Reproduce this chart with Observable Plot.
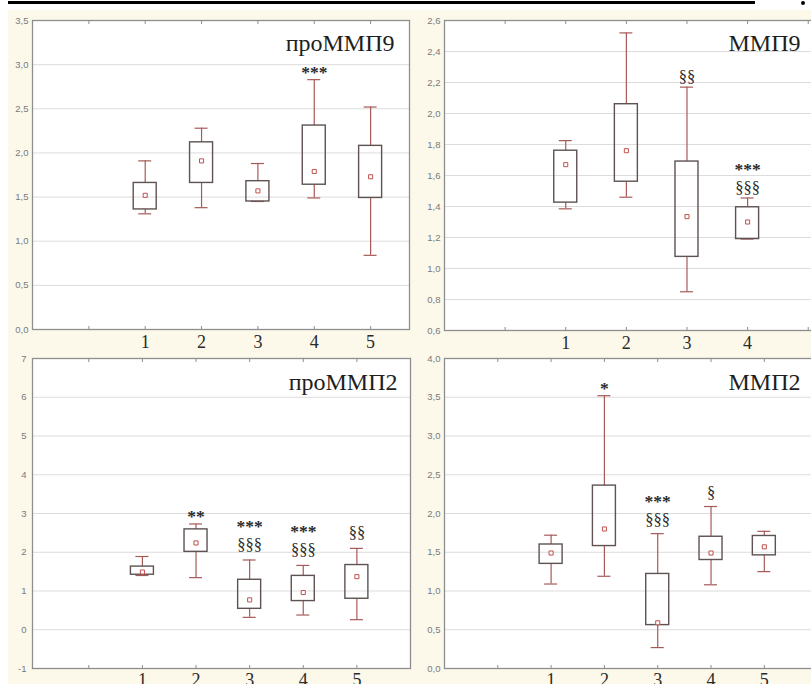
<!DOCTYPE html>
<html>
<head>
<meta charset="utf-8">
<script src="https://cdn.jsdelivr.net/npm/d3@7"></script>
<script src="https://cdn.jsdelivr.net/npm/@observablehq/plot@0.6"></script>
<style>
  html, body { margin: 0; padding: 0; background: #fff; }
  #fig { position: relative; width: 811px; height: 684px; overflow: hidden; background: #fff; }
  #fig .bg { position: absolute; left: 8px; top: 10px; right: 0; bottom: 0; background: #fcf8ea; }
  #fig .rule { position: absolute; left: 8px; top: 1px; width: 747px; height: 3px; background: #000; }
  #fig .dot { position: absolute; left: 801px; top: 1px; width: 4px; height: 4px; background: #000; border-radius: 2px; }
  #fig .panel { position: absolute; }
</style>
</head>
<body>
<div id="fig">
  <div class="bg"></div>
  <div class="rule"></div>
  <div class="dot"></div>
</div>
<script>
// ---- data ----
const groups = [1, 2, 3, 4, 5];

// проММП9
const proMMP9_low  = [1.31, 1.38, 1.45, 1.49, 0.84];
const proMMP9_q1   = [1.36, 1.66, 1.45, 1.64, 1.49];
const proMMP9_mean = [1.52, 1.91, 1.57, 1.79, 1.73];
const proMMP9_q3   = [1.66, 2.12, 1.68, 2.31, 2.08];
const proMMP9_high = [1.91, 2.28, 1.88, 2.83, 2.52];
const proMMP9_star = ["", "", "", "***", ""];
const proMMP9_sect = ["", "", "", "", ""];
const proMMP9_ticks = [0, 0.5, 1, 1.5, 2, 2.5, 3, 3.5];

// ММП9
const MMP9_low  = [1.385, 1.46, 0.85, 1.19];
const MMP9_q1   = [1.425, 1.56, 1.075, 1.19];
const MMP9_mean = [1.67, 1.76, 1.335, 1.30];
const MMP9_q3   = [1.76, 2.06, 1.69, 1.395];
const MMP9_high = [1.825, 2.52, 2.17, 1.455];
const MMP9_star = ["", "", "", "***"];
const MMP9_sect = ["", "", "§§", "§§§"];
const MMP9_ticks = [0.6, 0.8, 1.0, 1.2, 1.4, 1.6, 1.8, 2.0, 2.2, 2.4, 2.6];

// проММП2
const proMMP2_low  = [1.40, 1.345, 0.32, 0.38, 0.26];
const proMMP2_q1   = [1.42, 2.01, 0.54, 0.74, 0.80];
const proMMP2_mean = [1.49, 2.24, 0.77, 0.96, 1.37];
const proMMP2_q3   = [1.63, 2.59, 1.29, 1.39, 1.67];
const proMMP2_high = [1.89, 2.73, 1.80, 1.66, 2.10];
const proMMP2_star = ["", "**", "***", "***", ""];
const proMMP2_sect = ["", "", "§§§", "§§§", "§§"];
const proMMP2_ticks = [-1, 0, 1, 2, 3, 4, 5, 6, 7];

// ММП2
const MMP2_low  = [1.09, 1.19, 0.27, 1.08, 1.25];
const MMP2_q1   = [1.35, 1.58, 0.56, 1.40, 1.46];
const MMP2_mean = [1.49, 1.80, 0.59, 1.49, 1.57];
const MMP2_q3   = [1.60, 2.36, 1.22, 1.70, 1.71];
const MMP2_high = [1.72, 3.52, 1.74, 2.09, 1.77];
const MMP2_star = ["", "*", "***", "", ""];
const MMP2_sect = ["", "", "§§§", "§", ""];
const MMP2_ticks = [0, 0.5, 1, 1.5, 2, 2.5, 3, 3.5, 4];

// ---- drawing ----
const comma1 = d => d.toFixed(1).replace(".", ",");
const intFmt = d => String(d);

const BOX = "#5e5252", WHISK = "#a65a58", MEAN = "#c0504d", FRAME = "#8e8e8e", GRID = "#dcdcdc";
const SERIF = "'Liberation Serif', 'Times New Roman', serif";
const SANS = "'Liberation Sans', Arial, sans-serif";

function panel(cfg) {
  const n = cfg.low.length;
  const data = groups.slice(0, n).map((g, i) => ({
    g, low: cfg.low[i], q1: cfg.q1[i], mean: cfg.mean[i], q3: cfg.q3[i], high: cfg.high[i],
    star: cfg.star[i], sect: cfg.sect[i]
  }));
  const [fx0, fx1] = cfg.frameX, [fy0, fy1] = cfg.frameY;
  const unit = (fx1 - fx0) / (cfg.xDomain[1] - cfg.xDomain[0]);
  const hb = 11.5 / unit, hc = 6.5 / unit;
  const W = cfg.svg.w, H = cfg.svg.h;
  const sdy = cfg.sdy;
  const plot = Plot.plot({
    width: W, height: H,
    marginLeft: fx0 - cfg.svg.x, marginRight: cfg.svg.x + W - fx1,
    marginTop: fy0 - cfg.svg.y, marginBottom: cfg.svg.y + H - fy1,
    x: {domain: cfg.xDomain},
    y: {domain: cfg.yDomain},
    style: {background: "transparent", overflow: "visible"},
    marks: [
      Plot.frame({fill: "white", stroke: "none"}),
      Plot.gridY(cfg.ticks, {stroke: GRID, strokeOpacity: 1}),
      Plot.frame({stroke: FRAME, strokeWidth: 1.3}),
      Plot.axisY({ticks: cfg.ticks, tickSize: 0, tickPadding: cfg.ypad, tickFormat: cfg.fmt,
                  fontSize: 9.5, fontFamily: SANS, color: "#7a7a7a", label: null}),
      Plot.axisX({ticks: groups.slice(0, cfg.nLabels), tickSize: 0, tickPadding: cfg.xpad,
                  tickFormat: d => String(d), fontSize: 18, fontFamily: SERIF, color: "#2a2a2a", label: null}),
      Plot.axisX({anchor: "top", ticks: [0, 1, 2, 3, 4, 5], tickSize: -3, tickFormat: () => "", stroke: FRAME, label: null}),
      Plot.axisX({anchor: "bottom", ticks: [0, 1, 2, 3, 4, 5], tickSize: -3, tickFormat: () => "", stroke: FRAME, label: null}),
      // whiskers
      Plot.ruleX(data, {x: "g", y1: "low", y2: "q1", stroke: WHISK, strokeWidth: 1.2}),
      Plot.ruleX(data, {x: "g", y1: "q3", y2: "high", stroke: WHISK, strokeWidth: 1.2}),
      Plot.ruleY(data, {y: "high", x1: d => d.g - hc, x2: d => d.g + hc, stroke: WHISK, strokeWidth: 1.2}),
      Plot.ruleY(data, {y: "low", x1: d => d.g - hc, x2: d => d.g + hc, stroke: WHISK, strokeWidth: 1.2}),
      // boxes
      Plot.rect(data, {x1: d => d.g - hb, x2: d => d.g + hb, y1: "q1", y2: "q3", fill: "none", stroke: BOX, strokeWidth: 1.4}),
      // mean
      Plot.dot(data, {x: "g", y: "mean", symbol: "square", r: 2.3, stroke: MEAN, fill: "white", strokeWidth: 1}),
      // significance marks
      Plot.text(data.filter(d => d.sect), {x: "g", y: "high", text: "sect", lineAnchor: "bottom", dy: sdy,
                  fontSize: 16.5, fontFamily: SERIF, fill: "#2a2a2a"}),
      Plot.text(data.filter(d => d.star && !d.sect), {x: "g", y: "high", text: "star", lineAnchor: "bottom", dy: -2,
                  fontSize: 17.5, fontWeight: "bold", fontFamily: SERIF, fill: "#2a2a2a"}),
      Plot.text(data.filter(d => d.star && d.sect), {x: "g", y: "high", text: "star", lineAnchor: "bottom", dy: sdy - 18,
                  fontSize: 17.5, fontWeight: "bold", fontFamily: SERIF, fill: "#2a2a2a"}),
      // panel title
      Plot.text([cfg.title], {frameAnchor: "top-right", textAnchor: "end", lineAnchor: "top", dx: -cfg.tdx, dy: cfg.tdy,
                  fontSize: 24, fontFamily: SERIF, fill: "#1e1e1e"})
    ]
  });
  plot.classList.add("panel");
  plot.style.left = cfg.svg.x + "px";
  plot.style.top = cfg.svg.y + "px";
  document.getElementById("fig").appendChild(plot);
}

panel({
  title: "проММП9", low: proMMP9_low, q1: proMMP9_q1, mean: proMMP9_mean, q3: proMMP9_q3, high: proMMP9_high,
  star: proMMP9_star, sect: proMMP9_sect, ticks: proMMP9_ticks, fmt: comma1, nLabels: 5,
  frameX: [32, 409], frameY: [20, 329], xDomain: [-1, 5.69], yDomain: [0, 3.5],
  svg: {x: 0, y: 0, w: 420, h: 354}, ypad: 4, xpad: 6, tdx: 15, tdy: 13, sdy: -6
});
panel({
  title: "ММП9", low: MMP9_low, q1: MMP9_q1, mean: MMP9_mean, q3: MMP9_q3, high: MMP9_high,
  star: MMP9_star, sect: MMP9_sect, ticks: MMP9_ticks, fmt: comma1, nLabels: 4,
  frameX: [444, 815], frameY: [20, 330], xDomain: [-1, 5.12], yDomain: [0.6, 2.6],
  svg: {x: 415, y: 0, w: 410, h: 354}, ypad: 4, xpad: 6, tdx: 15, tdy: 13, sdy: -5
});
panel({
  title: "проММП2", low: proMMP2_low, q1: proMMP2_q1, mean: proMMP2_mean, q3: proMMP2_q3, high: proMMP2_high,
  star: proMMP2_star, sect: proMMP2_sect, ticks: proMMP2_ticks, fmt: intFmt, nLabels: 5,
  frameX: [32, 410], frameY: [358, 668], xDomain: [-1.05, 6.0], yDomain: [-1, 7],
  svg: {x: 0, y: 345, w: 420, h: 360}, ypad: 6, xpad: 5, tdx: 13, tdy: 14, sdy: -10
});
panel({
  title: "ММП2", low: MMP2_low, q1: MMP2_q1, mean: MMP2_mean, q3: MMP2_q3, high: MMP2_high,
  star: MMP2_star, sect: MMP2_sect, ticks: MMP2_ticks, fmt: comma1, nLabels: 5,
  frameX: [444, 815], frameY: [358, 668], xDomain: [-1, 5.96], yDomain: [0, 4],
  svg: {x: 415, y: 345, w: 410, h: 360}, ypad: 4, xpad: 5, tdx: 15, tdy: 14, sdy: -9
});
</script>
</body>
</html>
